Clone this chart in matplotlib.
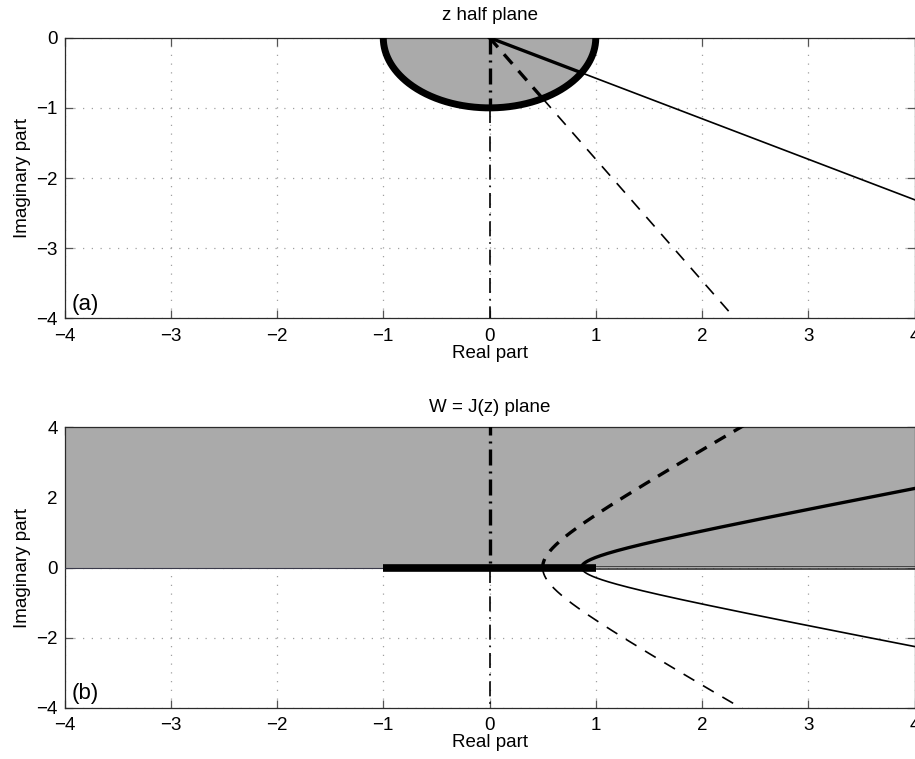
import numpy as np
import matplotlib
matplotlib.use("Agg")
import matplotlib.pyplot as plt

plt.rcParams['font.family'] = ['Liberation Sans', 'DejaVu Sans']
plt.rcParams['font.size'] = 13.5
plt.rcParams['axes.unicode_minus'] = True

# Rays in the lower half z plane (degrees) and their line styles
ray_angles_deg = [-30, -60, -90]
ray_styles = ['-', '--', '-.']

# Unit half disk (lower half) in the z plane
disk_radius = 1.0

# Ticks
x_ticks = [-4, -3, -2, -1, 0, 1, 2, 3, 4]
z_y_ticks = [-4, -3, -2, -1, 0]
w_y_ticks = [-4, -2, 0, 2, 4]

# Thin traces lying along the positive real W axis beyond 1
real_axis_offsets = [0.045, 0.0, -0.045]

GRAY = '#aaaaaa'
SPINE = '#2b2b2b'

DASH_THIN = {'--': (0, (7.5, 6)), '-.': (0, (9, 3.5, 1, 3.5)), '-': '-'}
DASH_THICK = {'--': (0, (3.8, 2.8)), '-.': (0, (4.8, 1.8, 0.6, 1.8)), '-': '-'}


def joukowski(z):
    return 0.5 * (z + 1.0 / z)


def style_axes(ax, yticks):
    ax.set_xlim(-4, 4)
    ax.set_ylim(min(yticks), max(yticks))
    ax.set_xticks(x_ticks)
    ax.set_yticks(yticks)
    ax.tick_params(direction='in', length=6, width=0.9, color='#555555',
                   top=True, right=True, pad=5, labelsize=13.5)
    ax.tick_params(axis='x', pad=7)
    for s in ax.spines.values():
        s.set_color(SPINE)
        s.set_linewidth(0.9)
    ax.grid(True, color='#a0a0a0', linestyle=(0, (1, 6)), linewidth=0.9)
    ax.set_axisbelow(True)
    ax.set_xlabel('Real part', labelpad=0)
    ax.set_ylabel('Imaginary part', labelpad=4)


fig = plt.figure(figsize=(9.15, 7.59), dpi=100)
ax1 = fig.add_axes([0.0705, 0.5806, 0.929, 0.3697])
ax2 = fig.add_axes([0.0705, 0.0676, 0.929, 0.3694])

# ---------------- z half plane ----------------
style_axes(ax1, z_y_ticks)
t = np.linspace(np.pi, 2 * np.pi, 400)
xd = disk_radius * np.cos(t)
yd = disk_radius * np.sin(t)
ax1.fill(np.r_[xd, xd[0]], np.r_[yd, yd[0]], color=GRAY, zorder=2, lw=0)
ax1.plot(xd, yd, color='black', lw=5.0, zorder=3, solid_capstyle='butt')

for ang, ls in zip(ray_angles_deg, ray_styles):
    phi = np.deg2rad(ang)
    d = np.exp(1j * phi)
    inner = np.linspace(0, 1, 50) * d
    outer = np.linspace(1, 12, 200) * d
    ax1.plot(inner.real, inner.imag, color='black', lw=2.4,
             ls=DASH_THICK[ls], zorder=4)
    ax1.plot(outer.real, outer.imag, color='black', lw=1.2,
             ls=DASH_THIN[ls], zorder=4)

ax1.set_title('z half plane', fontsize=13.5, pad=13)
ax1.text(-3.93, -3.88, '(a)', fontsize=16, ha='left', va='baseline', zorder=6)

# ---------------- W = J(z) plane ----------------
style_axes(ax2, w_y_ticks)
ax2.fill_between([-4, 4], 0, 4, color=GRAY, lw=0, zorder=2)
ax2.plot([-4, -1], [0, 0], color='#3a3a4a', lw=0.8, zorder=3)
for off in real_axis_offsets:
    ax2.plot([1, 4], [off, off], color='#333333', lw=0.6, zorder=3)

# Image of the half-disk diameter: segment [-1, 1]
ax2.plot([-disk_radius, disk_radius], [0, 0], color='black', lw=5.5,
         zorder=5, solid_capstyle='butt')

for ang, ls in zip(ray_angles_deg, ray_styles):
    phi = np.deg2rad(ang)
    d = np.exp(1j * phi)
    r_in = np.logspace(-2, 0, 400)
    r_out = np.logspace(0, 2, 400)
    w_in = joukowski(r_in * d)
    w_out = joukowski(r_out * d)
    ax2.plot(w_in.real, w_in.imag, color='black', lw=2.4,
             ls=DASH_THICK[ls], zorder=4)
    ax2.plot(w_out.real, w_out.imag, color='black', lw=1.2,
             ls=DASH_THIN[ls], zorder=4)

ax2.set_title('W = J(z) plane', fontsize=13.5, pad=11)
ax2.text(-3.93, -3.76, '(b)', fontsize=16, ha='left', va='baseline', zorder=6)

fig.savefig('out.png', dpi=100)
